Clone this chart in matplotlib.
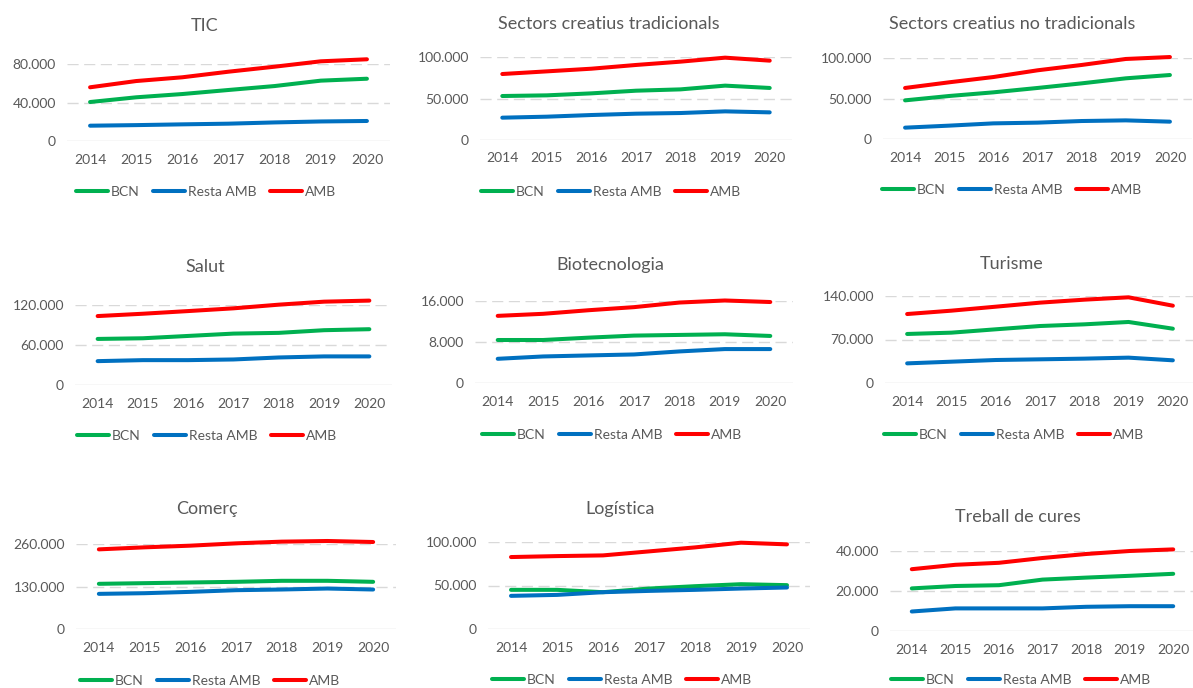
import matplotlib.pyplot as plt
import matplotlib as mpl
from matplotlib.ticker import FuncFormatter
import numpy as np

mpl.rcParams.update({
    "font.family": ["Lato", "DejaVu Sans"],
    "font.size": 10,
    "figure.facecolor": "white",
    "axes.facecolor": "white",
})

years = ["2014", "2015", "2016", "2017", "2018", "2019", "2020"]
series_names = ["BCN", "Resta AMB", "AMB"]

tic_bcn   = [40500, 45400, 48800, 53000, 57100, 62700, 64700]
tic_resta = [15900, 16500, 17300, 18000, 19300, 20300, 20800]
tic_amb   = [55800, 62300, 66200, 72000, 77200, 82800, 84900]

trad_bcn   = [53000, 53800, 56200, 59400, 61000, 65500, 62700]
trad_resta = [26900, 28100, 30100, 31700, 32500, 34500, 33300]
trad_amb   = [79500, 82700, 85900, 90400, 94400, 99200, 95600]

notrad_bcn   = [47700, 53100, 57600, 63000, 68700, 74900, 79000]
notrad_resta = [14000, 16500, 19300, 20200, 22200, 23000, 21400]
notrad_amb   = [63000, 70000, 76500, 84800, 91400, 98800, 101200]

salut_bcn   = [69100, 70100, 73600, 77100, 78200, 82200, 83700]
salut_resta = [35800, 37300, 37300, 38300, 41300, 42900, 42900]
salut_amb   = [103400, 106900, 110900, 115000, 120500, 125000, 126600]

bio_bcn   = [8390, 8390, 8850, 9250, 9380, 9510, 9180]
bio_resta = [4720, 5180, 5380, 5570, 6160, 6620, 6620]
bio_amb   = [13100, 13500, 14200, 14800, 15700, 16100, 15800]

tur_bcn   = [78900, 81000, 86400, 91700, 94400, 98200, 87400]
tur_resta = [31600, 34300, 37000, 38100, 39200, 40800, 36500]
tur_amb   = [111000, 116400, 122800, 129300, 134100, 137900, 124400]

com_bcn   = [138200, 140200, 142300, 144300, 147400, 147400, 144300]
com_resta = [107500, 109500, 113600, 118700, 120800, 123800, 120800]
com_amb   = [243600, 249800, 254900, 262000, 267200, 269200, 266100]

log_bcn   = [45000, 45000, 42300, 46500, 49200, 51500, 50400]
log_resta = [38100, 39200, 42300, 43800, 45000, 46500, 47700]
log_amb   = [82700, 83800, 84600, 89200, 93800, 99200, 97300]

cur_bcn   = [21300, 22500, 22900, 25700, 26700, 27600, 28600]
cur_resta = [9750, 11300, 11300, 11300, 12100, 12400, 12400]
cur_amb   = [30900, 33100, 34100, 36500, 38500, 40000, 40800]

colors = ["#00b050", "#0070c0", "#ff0000"]
text_color = "#595959"
grid_color = "#d9d9d9"

W, H = 1193, 688

# pixel layout: (left, right, y_zero, y_top) of plot area, title centre, legend centre
panels = [
    {"title": "TIC", "data": [tic_bcn, tic_resta, tic_amb], "ymax": 80000,
     "box": (67, 390, 141, 64), "title_xy": (205, 26), "leg_xy": (206, 192)},
    {"title": "Sectors creatius tradicionals", "data": [trad_bcn, trad_resta, trad_amb], "ymax": 100000,
     "box": (480, 792, 140, 57), "title_xy": (609, 24), "leg_xy": (611, 192)},
    {"title": "Sectors creatius no tradicionals", "data": [notrad_bcn, notrad_resta, notrad_amb], "ymax": 100000,
     "box": (883, 1192, 139, 58), "title_xy": (1012, 24), "leg_xy": (1012, 190)},
    {"title": "Salut", "data": [salut_bcn, salut_resta, salut_amb], "ymax": 120000,
     "box": (75, 392, 385, 305), "title_xy": (205, 267), "leg_xy": (207, 436)},
    {"title": "Biotecnologia", "data": [bio_bcn, bio_resta, bio_amb], "ymax": 16000,
     "box": (475, 793, 383, 301), "title_xy": (610, 265), "leg_xy": (612, 435)},
    {"title": "Turisme", "data": [tur_bcn, tur_resta, tur_amb], "ymax": 140000,
     "box": (885, 1195, 383, 296), "title_xy": (1012, 264), "leg_xy": (1014, 435)},
    {"title": "Comerç", "data": [com_bcn, com_resta, com_amb], "ymax": 260000,
     "box": (76, 396, 629, 544), "title_xy": (207, 509), "leg_xy": (210, 681)},
    {"title": "Logística", "data": [log_bcn, log_resta, log_amb], "ymax": 100000,
     "box": (488, 810, 629, 542), "title_xy": (620, 509), "leg_xy": (622, 680)},
    {"title": "Treball de cures", "data": [cur_bcn, cur_resta, cur_amb], "ymax": 40000,
     "box": (890, 1195, 631, 551), "title_xy": (1018, 517), "leg_xy": (1021, 680)},
]

fmt = FuncFormatter(lambda v, p: f"{v:,.0f}".replace(",", "."))

fig = plt.figure(figsize=(W / 100, H / 100), dpi=100)

for sp in panels:
    l, r, y0, yt = sp["box"]
    ax = fig.add_axes([l / W, 1 - y0 / H, (r - l) / W, (y0 - yt) / H])
    x = np.arange(len(years))
    handles = []
    for name, y, c in zip(series_names, sp["data"], colors):
        h, = ax.plot(x, y, color=c, linewidth=2.9, solid_capstyle="round",
                     solid_joinstyle="round", clip_on=False, label=name, zorder=3)
        handles.append(h)

    ymax = sp["ymax"]
    ax.set_xlim(-0.5, len(years) - 0.5)
    ax.set_ylim(0, ymax)
    ax.set_yticks([0, ymax / 2, ymax])
    ax.yaxis.set_major_formatter(fmt)
    ax.set_xticks(x)
    ax.set_xticklabels(years)
    for v in [ymax / 2, ymax]:
        ax.axhline(v, color=grid_color, linewidth=1.0, linestyle=(0, (8, 4)), zorder=1)
    ax.axhline(0, color=grid_color, linewidth=1.0, zorder=1)
    for s in ax.spines.values():
        s.set_visible(False)
    ax.tick_params(length=0, labelsize=10, colors=text_color)
    ax.tick_params(axis="y", pad=8)
    ax.tick_params(axis="x", pad=9)

    tx, ty = sp["title_xy"]
    fig.text(tx / W, 1 - ty / H, sp["title"], ha="center", va="center",
             fontsize=13, color=text_color)

    lx, ly = sp["leg_xy"]
    leg = fig.legend(handles=handles, loc="center", bbox_to_anchor=(lx / W, 1 - ly / H),
                     ncol=3, frameon=False, fontsize=10, handlelength=2.3,
                     handletextpad=0.2, columnspacing=1.0, borderpad=0)
    for t in leg.get_texts():
        t.set_color(text_color)

plt.savefig("out.png", dpi=100, facecolor="white")
